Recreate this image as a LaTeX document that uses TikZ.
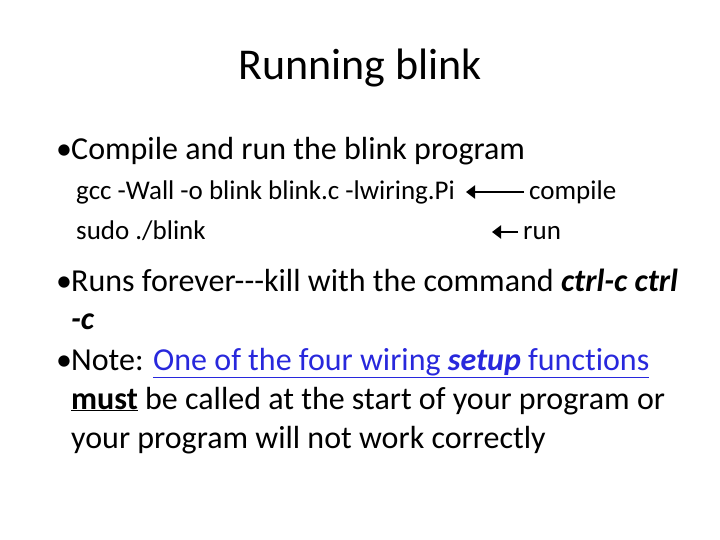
\documentclass[tikz,border=0pt]{standalone}
\usepackage{fontspec}
\usetikzlibrary{arrows.meta}
\setmainfont[Ligatures={NoCommon}]{Carlito}
\definecolor{lnk}{RGB}{40,40,220}
\begin{document}
\begin{tikzpicture}[x=1pt,y=1pt,
  big/.style={anchor=base west,inner sep=0pt,font=\fontsize{32}{38}\selectfont},
  sub/.style={anchor=base west,inner sep=0pt,font=\fontsize{27}{32}\selectfont},
  arr/.style={line width=2.6pt,-{Triangle[length=9pt,width=13pt]}}]
\useasboundingbox (0,0) rectangle (720,-540);
\node[anchor=base,inner sep=0pt,font=\fontsize{44}{50}\selectfont] (title) at (360,-80) {Running blink};
\node[big] (b1) at (56,-160) {•};
\node[big] (t1) at (71,-160) {Compile and run the blink program};
\node[sub] (c1) at (76,-200) {gcc -Wall -o blink blink.c -lwiring.Pi};
\node[sub] (c2) at (76,-240) {sudo ./blink};
\node[sub] (l1) at (529,-200) {compile};
\node[sub] (l2) at (523,-240) {run};
\coordinate (a1s) at (524,-192); \coordinate (a1e) at (466,-192);
\coordinate (a2s) at (518,-232); \coordinate (a2e) at (492,-232);
\draw[arr] (a1s) -- (a1e);
\draw[arr] (a2s) -- (a2e);
\node[big] (b2) at (56,-291) {•};
\node[big] (t2) at (71,-291) {Runs forever-{}-{}-kill with the command \textbf{\textit{ctrl-c ctrl}}};
\node[big] (t2b) at (71,-329) {\textbf{\textit{-c}}};
\node[big] (b3) at (56,-370) {•};
\node[big] (t3) at (71,-370) {Note: \textcolor{lnk}{\underline{One of the four wiring \textbf{\textit{setup}} functions}}};
\node[big] (t3b) at (71,-409) {\underline{\textbf{must}} be called at the start of your program or};
\node[big] (t3c) at (71,-448) {your program will not work correctly};
\end{tikzpicture}
\end{document}
